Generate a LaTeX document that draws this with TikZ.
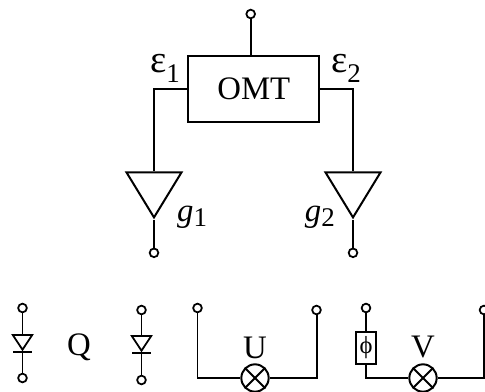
\documentclass[tikz,border=0pt]{standalone}
\usepackage{fontspec}
\setmainfont{Liberation Serif}
\usetikzlibrary{shapes.geometric,calc}
\newcommand{\subtxt}[3]{#1\raisebox{#3}{\fontsize{23}{23}\selectfont #2}}
\tikzset{
    wire/.style = {draw, line width=1.7pt},
    block/.style = {draw, rectangle, line width=1.7pt, minimum height=1.97cm, minimum width=3.93cm},
    term/.style = {draw, circle, line width=1.5pt, fill=white, inner sep=0pt, minimum size=.26cm},
    amp/.style = {draw, isosceles triangle, isosceles triangle stretches, shape border rotate=270, line width=1.7pt,
        inner sep=0pt, minimum width=1.65cm, minimum height=1.35cm, anchor=apex, miter limit=3},
    diode/.style = {draw, isosceles triangle, isosceles triangle stretches, shape border rotate=270, line width=1.5pt,
        inner sep=0pt, minimum width=.58cm, minimum height=.44cm, anchor=apex, miter limit=3},
    mixer/.style = {draw, circle, line width=1.7pt, inner sep=0pt, minimum size=.82cm},
    phase/.style = {draw, rectangle, line width=1.7pt, inner sep=0pt, minimum width=.58cm, minimum height=.95cm},
    txt/.style = {inner sep=0pt, font=\fontsize{28}{30}\selectfont}
}
\begin{document}
\begin{tikzpicture}[x=.03cm, y=.03cm]
        \useasboundingbox (0,0) rectangle (485,-391);
        % horn side
        \node [block, txt] (omt) at (253.8,-89) {OMT};
        \node [term] (top) at (250.7,-14) {};
        \draw [wire] (top) -- (top |- omt.north);
        \node [amp] (amp1) at (154,-220) {};
        \node [amp] (amp2) at (353,-220) {};
        \node [term, below of=amp1, node distance=1.95cm] (out1) {};
        \node [term, below of=amp2, node distance=1.95cm] (out2) {};
        \draw [wire] (omt.west) -| (amp1.north);
        \draw [wire] (omt.east) -| (amp2.north);
        \draw [wire] (amp1.apex) -- (out1);
        \draw [wire] (amp2.apex) -- (out2);
        \node [txt, anchor=base west] (e1) at (150,-72) {\subtxt{\fontsize{33}{33}\selectfont ε}{1}{-.26em}};
        \node [txt, anchor=base west] (e2) at (331,-72) {\subtxt{\fontsize{33}{33}\selectfont ε}{2}{-.26em}};
        \node [txt, anchor=base west] (g1) at (177,-221) {\subtxt{\textit{g}}{1}{-.16em}};
        \node [txt, anchor=base east] (g2) at (335,-221) {\subtxt{\textit{g}}{2}{-.16em}};
        % Q branch
        \node [diode] (dio1) at (22.5,-352) {};
        \node [term] (q1a) at (22.5,-308) {};
        \node [term] (q1b) at (22.5,-378) {};
        \draw [wire] (q1a) -- (dio1.north);
        \draw [wire] (dio1.apex) -- (q1b);
        \draw [wire] (dio1.apex) +(-9.5,0) -- +(9.5,0);
        \node [diode] (dio2) at (141.5,-353) {};
        \node [term] (q2a) at (141.5,-310) {};
        \node [term] (q2b) at (141.5,-380) {};
        \draw [wire] (q2a) -- (dio2.north);
        \draw [wire] (dio2.apex) -- (q2b);
        \draw [wire] (dio2.apex) +(-9.5,0) -- +(9.5,0);
        \node [txt] (q) at (79,-347) {Q};
        % U branch
        \node [mixer] (mixu) at (255,-378) {};
        \draw [wire] (mixu.north west) -- (mixu.south east);
        \draw [wire] (mixu.north east) -- (mixu.south west);
        \node [term] (u1) at (197.5,-308) {};
        \node [term] (u2) at (316.5,-310) {};
        \draw [wire] (u1) |- (mixu);
        \draw [wire] (u2) |- (mixu);
        \node [txt] (u) at (255,-348) {U};
        % V branch
        \node [mixer] (mixv) at (423,-378) {};
        \draw [wire] (mixv.north west) -- (mixv.south east);
        \draw [wire] (mixv.north east) -- (mixv.south west);
        \node [phase, font=\fontsize{21}{21}\selectfont] (phi) at (366,-348) {ϕ};
        \node [term] (v1) at (366,-308) {};
        \node [term] (v2) at (484,-310) {};
        \draw [wire] (v1) -- (phi);
        \draw [wire] (phi) |- (mixv);
        \draw [wire] (v2) |- (mixv);
        \node [txt] (v) at (423,-347) {V};
    \end{tikzpicture}
\end{document}
